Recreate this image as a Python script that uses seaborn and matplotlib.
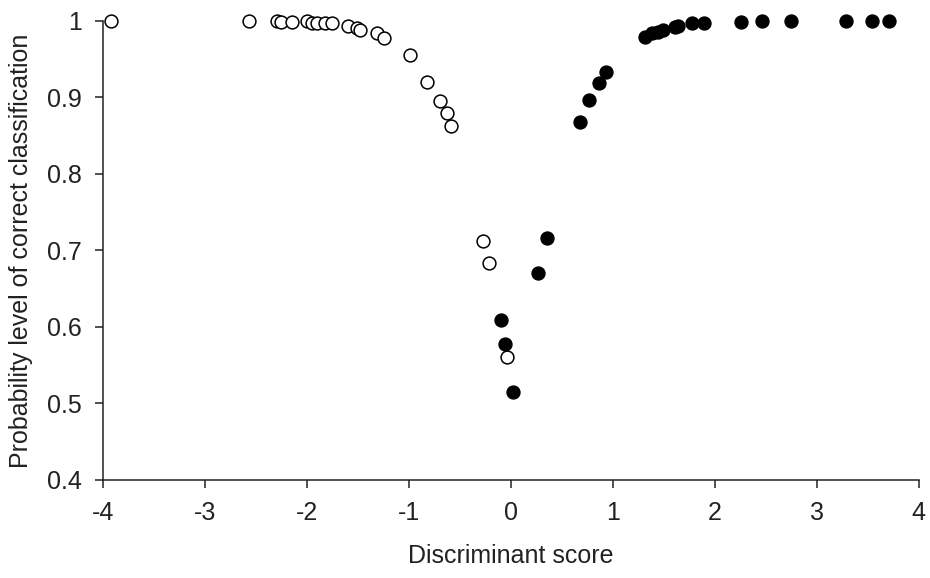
import matplotlib
matplotlib.use("Agg")
import matplotlib.pyplot as plt
import seaborn as sns

# --- DATA ---

# group with negative scores (open circles)
open_x = [-3.92, -2.57, -2.29, -2.25, -2.15, -2.00, -1.95, -1.90, -1.82, -1.75,
          -1.60, -1.51, -1.48, -1.31, -1.24, -0.99, -0.82, -0.70, -0.63, -0.59,
          -0.27, -0.22, -0.04]
open_y = [1.000, 1.000, 1.000, 0.999, 0.999, 1.000, 0.997, 0.997, 0.997, 0.997,
          0.993, 0.991, 0.988, 0.984, 0.978, 0.956, 0.920, 0.895, 0.880, 0.863,
          0.712, 0.684, 0.561]

# group with positive scores (filled circles)
filled_x = [-0.10, -0.06, 0.02, 0.27, 0.35, 0.68, 0.77, 0.86, 0.93, 1.31,
            1.38, 1.44, 1.49, 1.61, 1.64, 1.78, 1.89, 2.26, 2.46, 2.75,
            3.29, 3.54, 3.71]
filled_y = [0.609, 0.578, 0.515, 0.671, 0.716, 0.868, 0.897, 0.919, 0.933, 0.979,
            0.984, 0.986, 0.988, 0.992, 0.993, 0.997, 0.997, 0.999, 1.000, 1.000,
            1.000, 1.000, 1.000]

x_ticks = [-4, -3, -2, -1, 0, 1, 2, 3, 4]
x_labels = ['-4', '-3', '-2', '-1', '0', '1', '2', '3', '4']
y_ticks = [0.4, 0.5, 0.6, 0.7, 0.8, 0.9, 1.0]
y_labels = ['0.4', '0.5', '0.6', '0.7', '0.8', '0.9', '1']

# --- PLOT ---
sns.set_style('white')
plt.rcParams['font.family'] = ['Liberation Sans', 'DejaVu Sans']

fig = plt.figure(figsize=(9.3, 5.78), dpi=100)
ax = fig.add_axes([0.1108, 0.1696, 0.8772, 0.7941])

sns.scatterplot(x=open_x, y=open_y, ax=ax, s=85, color='white',
                edgecolor='black', linewidth=1.1, clip_on=False, zorder=3)
sns.scatterplot(x=filled_x, y=filled_y, ax=ax, s=85, color='black',
                edgecolor='black', linewidth=1.1, clip_on=False, zorder=3)

ax.set_xlim(-4, 4)
ax.set_ylim(0.4, 1.0)
ax.set_xticks(x_ticks)
ax.set_xticklabels(x_labels)
ax.set_yticks(y_ticks)
ax.set_yticklabels(y_labels)

for side in ('top', 'right'):
    ax.spines[side].set_visible(False)
for side in ('left', 'bottom'):
    ax.spines[side].set_color('#222222')
    ax.spines[side].set_linewidth(1.1)

ax.tick_params(axis='both', direction='out', length=6, width=1.1,
               color='#222222', labelsize=18, pad=9, labelcolor='#222222')
ax.tick_params(axis='x', bottom=True)
ax.tick_params(axis='y', left=True)

ax.set_xlabel('Discriminant score', fontsize=18, color='#222222', labelpad=14)
ax.set_ylabel('Probability level of correct classification', fontsize=18,
              color='#222222', labelpad=10)

fig.savefig('out.png', dpi=100)
